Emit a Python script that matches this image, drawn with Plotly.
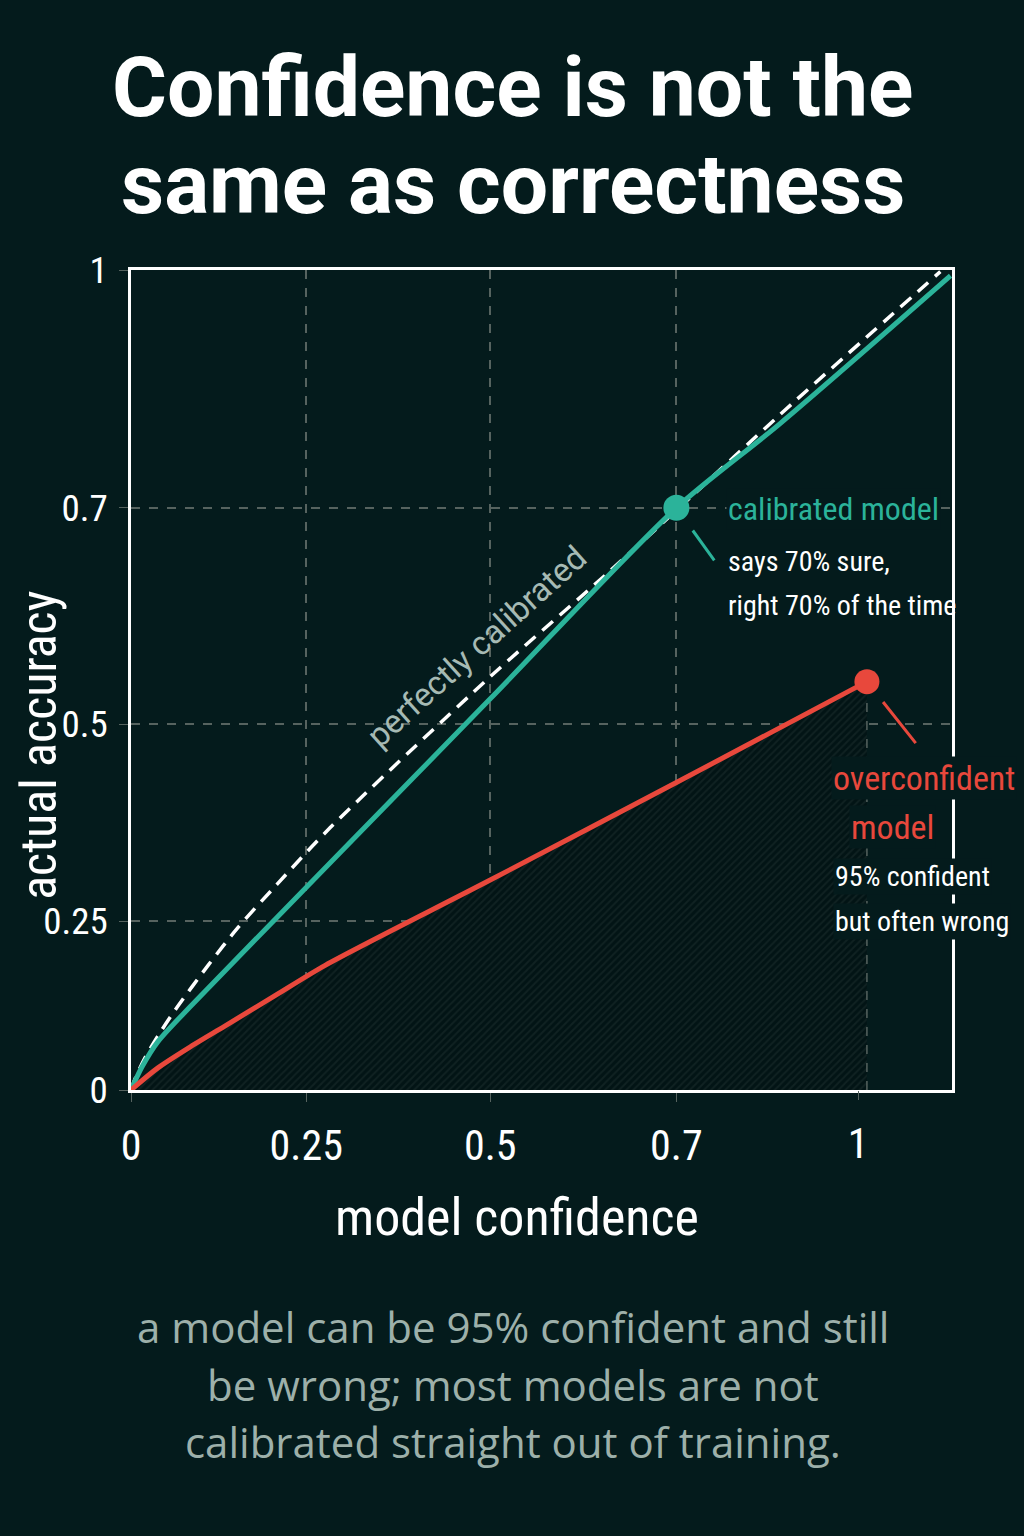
import plotly.graph_objects as go

# axis units follow the drawn picture: x 0..1 = "0".."1" tick, y 0..1 = bottom..top
x_tick_vals = [0, 0.241, 0.494, 0.750]
x_tick_text = ["0", "0.25", "0.5", "0.7"]
x_end_val = [1.0]
x_end_text = ["1"]
y_tick_vals = [0, 0.206, 0.446, 0.710, 1.0]
y_tick_text = ["0", "0.25", "0.5", "0.7", "1"]

# perfectly calibrated reference (dashed)
ideal_x = [0, 0.0055, 0.019, 0.040, 0.061, 0.106, 0.147, 0.201, 0.274, 0.494, 0.655, 0.750, 0.893, 1.113]
ideal_y = [0, 0.0134, 0.039, 0.070, 0.098, 0.152, 0.198, 0.251, 0.320, 0.504, 0.630, 0.707, 0.824, 0.998]

# calibrated model
calib_x = [0, 0.015, 0.037, 0.084, 0.274, 0.494, 0.750, 0.893, 1.127]
calib_y = [0, 0.028, 0.059, 0.104, 0.277, 0.477, 0.710, 0.813, 0.993]

# overconfident model
over_x = [0, 0.037, 0.084, 0.129, 0.198, 0.267, 0.494, 0.748, 1.012]
over_y = [0, 0.027, 0.054, 0.078, 0.115, 0.152, 0.256, 0.374, 0.498]

calib_pt = (0.750, 0.710)
over_pt = (1.012, 0.498)

BG = "#041b1c"
TEAL = "#2bb39a"
RED = "#e8483c"
GRID = "#56635f"
COND = "Roboto Condensed, Liberation Sans Narrow, DejaVu Sans Condensed, Roboto"

fig = go.Figure()

# shaded area under overconfident curve
fig.add_trace(go.Scatter(
    x=over_x, y=over_y, mode="lines", line=dict(color=RED, width=0, shape="spline", smoothing=0.8),
    fill="tozeroy",
    fillpattern=dict(shape="/", bgcolor="#021415", fgcolor="#1e302f", size=5, solidity=0.35),
    hoverinfo="skip", showlegend=False))

# drop line from the overconfident point
fig.add_trace(go.Scatter(
    x=[over_pt[0], over_pt[0]], y=[0, over_pt[1]], mode="lines",
    line=dict(color=GRID, width=1.5, dash="dash"), showlegend=False))

fig.add_trace(go.Scatter(
    x=ideal_x, y=ideal_y, mode="lines",
    line=dict(color="white", width=3.5, dash="14px,9px", shape="spline", smoothing=0.8),
    showlegend=False))
fig.add_trace(go.Scatter(
    x=calib_x, y=calib_y, mode="lines", line=dict(color=TEAL, width=5, shape="spline", smoothing=0.8),
    showlegend=False))
fig.add_trace(go.Scatter(
    x=over_x, y=over_y, mode="lines", line=dict(color=RED, width=5, shape="spline", smoothing=0.8),
    showlegend=False))

fig.add_trace(go.Scatter(
    x=[calib_pt[0]], y=[calib_pt[1]], mode="markers",
    marker=dict(color=TEAL, size=26), showlegend=False))

# connector ticks next to the points
fig.add_annotation(x=calib_pt[0], y=calib_pt[1], ax=39, ay=54, text="", showarrow=True,
                   arrowhead=0, arrowwidth=3, arrowcolor=TEAL, standoff=28)
fig.add_annotation(x=over_pt[0], y=over_pt[1], ax=50, ay=63, text="", showarrow=True,
                   arrowhead=0, arrowwidth=3, arrowcolor=RED, standoff=26)


# point labels (dark box hides grid lines behind the text where needed)
def label(x, y, text, size, color, anchor="left", mask=True):
    fig.add_annotation(x=x, y=y, text=text, showarrow=False, xanchor=anchor,
                       bgcolor=BG if mask else None, borderpad=1,
                       font=dict(family=COND, size=size, color=color))


label(0.818, 0.708, "calibrated model", 32, TEAL)
label(0.818, 0.645, "says 70% sure,", 28, "white", mask=False)
label(0.818, 0.591, "right 70% of the time", 28, "white", mask=False)
label(1.091, 0.380, "overconfident", 34, RED, "center")
label(1.047, 0.321, "model", 34, RED, "center")
label(0.966, 0.260, "95% confident", 28, "white")
label(0.966, 0.205, "but often wrong", 28, "white")

fig.add_annotation(x=0.475, y=0.541, text="perfectly calibrated", showarrow=False, textangle=-42,
                   font=dict(family="Roboto", size=33, color="#a6bab4"))


# title, axis titles, caption (paper units: 0..1 spans the plot frame)
def paper_text(x, y, text, size, color, family, angle=0):
    fig.add_annotation(xref="paper", yref="paper", x=x, y=y, xanchor="center", yanchor="middle",
                       text=text, showarrow=False, textangle=angle,
                       font=dict(family=family, size=size, color=color))


paper_text(0.465, 1.222, "<b>Confidence is not the</b>", 84, "white", "Roboto")
paper_text(0.465, 1.104, "<b>same as correctness</b>", 84, "white", "Roboto")
paper_text(0.470, -0.155, "model confidence", 52, "white", COND)
paper_text(-0.113, 0.420, "actual accuracy", 50, "white", COND, angle=-90)
paper_text(0.465, -0.288, "a model can be 95% confident and still", 42, "#9db0aa", "Open Sans")
paper_text(0.465, -0.359, "be wrong; most models are not", 42, "#9db0aa", "Open Sans")
paper_text(0.465, -0.429, "calibrated straight out of training.", 42, "#9db0aa", "Open Sans")

axis_common = dict(
    showgrid=True, gridcolor=GRID, griddash="dash", gridwidth=1.5,
    showline=True, mirror=True, linecolor="white", linewidth=2.5,
    zeroline=False, ticks="outside", ticklen=9, tickcolor=GRID,
)

fig.update_xaxes(range=[0, 1.129], tickvals=x_tick_vals, ticktext=x_tick_text,
                 tickfont=dict(family=COND, size=42, color="white"), ticklabelstandoff=8, **axis_common)
fig.update_yaxes(range=[0, 1.0], tickvals=y_tick_vals, ticktext=y_tick_text,
                 tickfont=dict(family=COND, size=37, color="white"), ticklabelstandoff=4, **axis_common)

# second x axis only for the "1" label (no grid line above the drop line)
fig.update_layout(xaxis2=dict(
    overlaying="x", matches="x", side="bottom", range=[0, 1.129],
    tickvals=x_end_val, ticktext=x_end_text, showgrid=False, zeroline=False,
    ticks="outside", ticklen=9, tickcolor=GRID, ticklabelstandoff=8,
    tickfont=dict(family=COND, size=42, color="white")))
fig.add_trace(go.Scatter(x=[over_pt[0]], y=[over_pt[1]], xaxis="x2", mode="markers",
                         marker=dict(color=RED, size=25), showlegend=False, hoverinfo="skip"))

fig.update_layout(
    width=1024, height=1536,
    margin=dict(l=131, r=72, t=270, b=446),
    paper_bgcolor=BG, plot_bgcolor=BG,
    showlegend=False,
)

fig.write_html("out.html", config={"displayModeBar": False},
               post_script="document.body.style.margin='0';document.body.style.background='%s';" % BG)
